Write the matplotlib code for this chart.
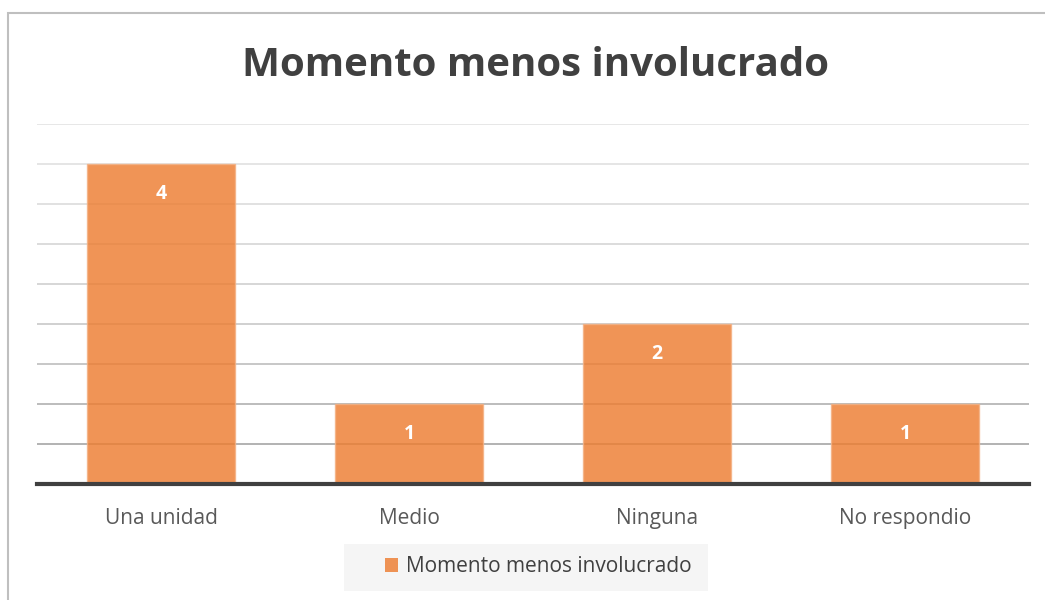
import matplotlib
matplotlib.use("Agg")
import matplotlib.pyplot as plt
from matplotlib.patches import Rectangle

categories = ["Una unidad", "Medio", "Ninguna", "No respondio"]
values = [4, 1, 2, 1]
series_name = "Momento menos involucrado"
title = "Momento menos involucrado"

FONT = ["Open Sans", "DejaVu Sans"]
W, H = 1045, 600
fig = plt.figure(figsize=(W / 100, H / 100), dpi=100)

# outer chart border
fig.patches.append(Rectangle((8 / W, -0.1), 1.2, 1.1 - 13 / H, transform=fig.transFigure,
                             fill=False, edgecolor="#BFBFBF", linewidth=1.5))
# legend background
fig.patches.append(Rectangle((344 / W, 1 - 591 / H), (708 - 344) / W, (591 - 544) / H,
                             transform=fig.transFigure, facecolor="#F5F5F5",
                             edgecolor="none"))

ax = fig.add_axes([37 / W, 1 - 484 / H, (1029 - 37) / W, (484 - 124) / H])
x = list(range(len(categories)))
bars = ax.bar(x, values, width=0.6, color="#ED7D31", alpha=0.82,
              edgecolor="#F4B183", linewidth=1, zorder=3)
ax.set_xlim(-0.5, len(categories) - 0.5)
ax.set_ylim(0, 4.5)
ax.set_yticks([0.5 * i for i in range(1, 10)])
ax.yaxis.grid(True, linewidth=1.2, zorder=0)
ax.set_axisbelow(True)
grid_cols = ["#A6A6A6", "#B0B0B0", "#BDBDBD", "#C8C8C8", "#D0D0D0",
             "#D6D6D6", "#DBDBDB", "#E0E0E0", "#E3E3E3"]
for gl, c in zip(ax.get_ygridlines(), grid_cols):
    gl.set_color(c)
ax.tick_params(axis="y", length=0, labelleft=False)
ax.tick_params(axis="x", length=0, pad=17)
ax.set_xticks(x)
ax.set_xticklabels(categories, fontsize=15, color="#595959", family=FONT)
for s in ["top", "right", "left"]:
    ax.spines[s].set_visible(False)
ax.spines["bottom"].set_color("#404040")
ax.spines["bottom"].set_linewidth(3)
ax.spines["bottom"].set_zorder(4)

for b, v in zip(bars, values):
    ax.annotate(str(v), (b.get_x() + b.get_width() / 2, v), xytext=(0, -30),
                textcoords="offset pixels", ha="center", va="center",
                color="white", fontsize=14, fontweight="bold", family=FONT, zorder=5)

fig.text(535 / W, 1 - 66 / H, title, ha="center", va="center", fontsize=29,
         fontweight="bold", color="#404040", family=FONT)

# legend
leg_handles = [Rectangle((0, 0), 1, 1, facecolor="#ED7D31", alpha=0.82, edgecolor="none")]
leg = fig.legend(leg_handles, [series_name], loc="center",
                 bbox_to_anchor=(538 / W, 1 - 567 / H), frameon=False,
                 prop={"family": FONT, "size": 15}, handlelength=0.65, handleheight=0.65,
                 handletextpad=0.35, borderpad=0, borderaxespad=0)
for t in leg.get_texts():
    t.set_color("#404040")

fig.savefig("out.png", dpi=100)
